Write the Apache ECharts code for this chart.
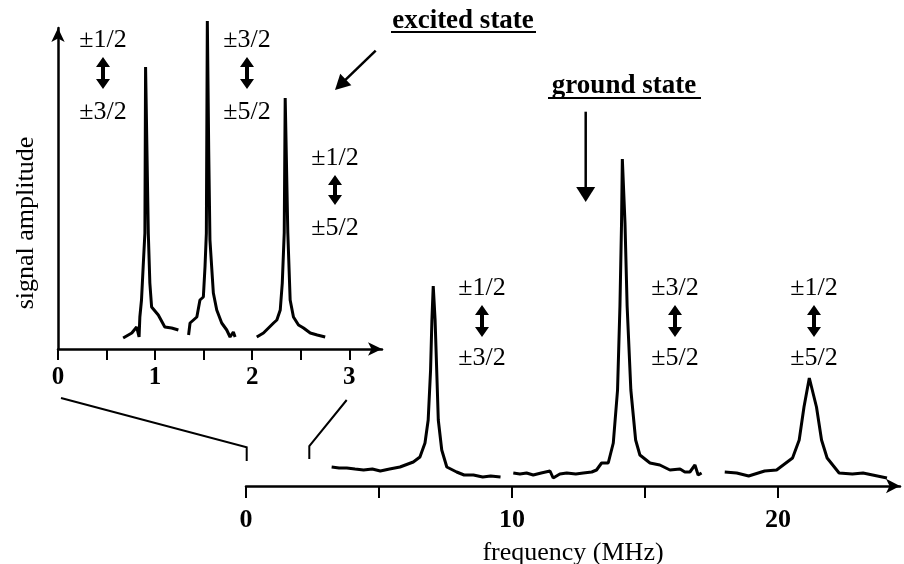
<!DOCTYPE html>
<html lang="en">
<head>
    <meta charset="UTF-8">
    <title>NQR spectra</title>
    <style>
        html, body { margin: 0; padding: 0; background: #fff; }
        #chart { width: 904px; height: 564px; }
    </style>
</head>
<body>
    <div id="chart"></div>
</body>
<script src="https://cdn.jsdelivr.net/npm/echarts@6/dist/echarts.min.js"></script>
<script type="text/javascript">
    // excited state (inset), frequency in MHz, amplitude in arb. units
    var excitedA = [[0.671, 11], [0.689, 12], [0.76, 16], [0.81, 22], [0.835, 12], [0.843, 32], [0.86, 49], [0.877, 82],
        [0.895, 116], [0.902, 282], [0.93, 116], [0.946, 66], [0.964, 42], [1.033, 34], [1.10, 22], [1.17, 21], [1.24, 19]];
    var excitedB = [[1.345, 14], [1.36, 26], [1.43, 32], [1.462, 49], [1.497, 52], [1.514, 82], [1.528, 116], [1.538, 328],
        [1.552, 200], [1.565, 109], [1.60, 56], [1.635, 39], [1.686, 26], [1.738, 19], [1.772, 12], [1.806, 17], [1.824, 12]];
    var excitedC = [[2.047, 12], [2.116, 16], [2.168, 21], [2.22, 26], [2.254, 29], [2.289, 39], [2.31, 66], [2.33, 116],
        [2.34, 251], [2.367, 116], [2.391, 49], [2.425, 32], [2.477, 24], [2.529, 21], [2.598, 16], [2.67, 14], [2.752, 12]];

    // ground state (main)
    var groundA = [[3.22, 19], [3.5, 18], [3.79, 18], [4.1, 17], [4.42, 16], [4.75, 17], [5.05, 15], [5.4, 17], [5.79, 19],
        [6.29, 24], [6.54, 29], [6.73, 43], [6.85, 66], [6.94, 116], [6.99, 166], [7.04, 200], [7.11, 166], [7.17, 116],
        [7.23, 66], [7.36, 36], [7.55, 19], [7.92, 14], [8.2, 11], [8.55, 11], [8.9, 9], [9.2, 10], [9.57, 9]];
    var groundB = [[10.05, 13], [10.3, 12], [10.55, 13], [10.8, 11], [11.1, 13], [11.43, 15], [11.55, 8], [11.8, 12],
        [12.06, 13], [12.4, 12], [12.68, 13], [13.0, 14], [13.18, 16], [13.37, 23], [13.62, 23], [13.81, 43], [13.97, 96],
        [14.06, 180], [14.12, 263], [14.15, 327], [14.25, 263], [14.33, 180], [14.47, 96], [14.65, 46], [14.81, 31],
        [15.19, 23], [15.56, 21], [15.94, 16], [16.32, 17], [16.5, 14], [16.69, 14], [16.88, 21], [17.0, 11], [17.13, 13]];
    var groundC = [[18.0, 14], [18.45, 13], [18.9, 10], [19.5, 15], [19.95, 16], [20.55, 28], [20.8, 46], [20.98, 79],
        [21.18, 108], [21.45, 79], [21.64, 46], [21.85, 28], [22.3, 13], [22.8, 12], [23.2, 13], [24.1, 8]];

    var mainTicks = [0, 5, 10, 15, 20];
    var mainLabels = [0, 10, 20];
    var insetTicks = [0, 0.5, 1, 1.5, 2, 2.5, 3];
    var insetLabels = [0, 1, 2, 3];

    // transition labels: [upper, lower]
    var insetTransitions = [['±1/2', '±3/2'], ['±3/2', '±5/2'], ['±1/2', '±5/2']];
    var groundTransitions = [['±1/2', '±3/2'], ['±3/2', '±5/2'], ['±1/2', '±5/2']];

    var SERIF = '"Liberation Serif", "Times New Roman", serif';

    function spectrum(data, axisIdx) {
        return {
            type: 'line',
            xAxisIndex: axisIdx,
            yAxisIndex: axisIdx,
            data: data,
            showSymbol: false,
            clip: false,
            silent: true,
            lineStyle: { color: '#000', width: 3 }
        };
    }

    function text(str, x, y, font, rot) {
        return {
            type: 'text', x: x, y: y, rotation: rot || 0,
            style: { text: str, font: font, fill: '#000', align: 'center', verticalAlign: 'middle' }
        };
    }

    function line(points, w) {
        return { type: 'polyline', shape: { points: points }, style: { stroke: '#000', lineWidth: w || 2, fill: null } };
    }

    // double headed vertical arrow
    function dblArrow(cx, top, bottom) {
        var hw = 7, sw = 2, hh = 10;
        return {
            type: 'polygon',
            shape: {
                points: [[cx, top], [cx + hw, top + hh], [cx + sw, top + hh], [cx + sw, bottom - hh], [cx + hw, bottom - hh],
                    [cx, bottom], [cx - hw, bottom - hh], [cx - sw, bottom - hh], [cx - sw, top + hh], [cx - hw, top + hh]]
            },
            style: { fill: '#000' }
        };
    }

    // single arrow from (x1,y1) to tip (x2,y2)
    function arrow(x1, y1, x2, y2, len, half) {
        var dx = x2 - x1, dy = y2 - y1, d = Math.sqrt(dx * dx + dy * dy);
        var ux = dx / d, uy = dy / d;
        var bx = x2 - ux * len, by = y2 - uy * len;
        return [
            line([[x1, y1], [bx + ux * 2, by + uy * 2]], 2.5),
            {
                type: 'polygon',
                shape: { points: [[x2, y2], [bx - uy * half, by + ux * half], [bx + uy * half, by - ux * half]] },
                style: { fill: '#000' }
            }
        ];
    }

    var chart = echarts.init(document.getElementById('chart'));

    var labFont = '26px ' + SERIF;

    var graphics = [];
    // titles
    graphics.push(text('excited state', 463, 21, 'bold 27px ' + SERIF));
    graphics.push(line([[391, 32], [536, 32]], 2));
    graphics.push(text('ground state', 624, 86, 'bold 27px ' + SERIF));
    graphics.push(line([[548, 98], [701, 98]], 2));
    graphics = graphics.concat(arrow(375.7, 50.7, 335, 90, 15, 8));
    graphics = graphics.concat(arrow(585.7, 111.7, 585.7, 202, 15, 9.5));
    // y axis name of inset
    graphics.push(text('signal amplitude', 26, 223, labFont, Math.PI / 2));
    // zoom connector lines
    graphics.push(line([[61, 398], [246.7, 447.3], [246.7, 461]], 2));
    graphics.push(line([[346.7, 400], [309.3, 446], [309.3, 459]], 2));

    // transition labels
    var insetPos = [[103, 40, 112, 57, 89], [247, 40, 112, 57, 89], [335, 158, 228, 175, 205]];
    insetTransitions.forEach(function (t, i) {
        var p = insetPos[i];
        graphics.push(text(t[0], p[0], p[1], labFont));
        graphics.push(text(t[1], p[0], p[2], labFont));
        graphics.push(dblArrow(p[0], p[3], p[4]));
    });
    var groundPos = [482, 675, 814];
    groundTransitions.forEach(function (t, i) {
        graphics.push(text(t[0], groundPos[i], 288, labFont));
        graphics.push(text(t[1], groundPos[i], 358, labFont));
        graphics.push(dblArrow(groundPos[i], 305, 337));
    });

    chart.setOption({
        animation: false,
        backgroundColor: '#fff',
        grid: [
            { left: 246, right: 4, top: 146, bottom: 78, outerBoundsMode: 'none' },
            { left: 58, right: 522, top: 28, bottom: 215, outerBoundsMode: 'none' }
        ],
        xAxis: [{
            type: 'value', gridIndex: 0, min: 0, max: 24.59,
            name: 'frequency (MHz)', nameLocation: 'middle', nameGap: 54,
            nameTextStyle: { fontFamily: SERIF, fontSize: 26, color: '#000' },
            axisLine: { symbol: ['none', 'arrow'], symbolSize: [11, 14], lineStyle: { color: '#000', width: 2.5 } },
            axisTick: { customValues: mainTicks, length: 12, lineStyle: { color: '#000', width: 2 } },
            axisLabel: { customValues: mainLabels, margin: 21, color: '#000', fontFamily: SERIF, fontSize: 26, fontWeight: 'bold' },
            splitLine: { show: false }
        }, {
            type: 'value', gridIndex: 1, min: 0, max: 3.337,
            axisLine: { symbol: ['none', 'arrow'], symbolSize: [10, 14], lineStyle: { color: '#000', width: 2.5 } },
            axisTick: { customValues: insetTicks, length: 11, lineStyle: { color: '#000', width: 2 } },
            axisLabel: { customValues: insetLabels, margin: 16, color: '#000', fontFamily: SERIF, fontSize: 25, fontWeight: 'bold' },
            splitLine: { show: false }
        }],
        yAxis: [{
            type: 'value', gridIndex: 0, min: 0, max: 340, show: false
        }, {
            type: 'value', gridIndex: 1, min: 0, max: 321,
            axisLine: { show: true, symbol: ['none', 'arrow'], symbolSize: [10, 14], lineStyle: { color: '#000', width: 2.5 } },
            axisTick: { show: false },
            axisLabel: { show: false },
            splitLine: { show: false }
        }],
        series: [
            spectrum(groundA, 0), spectrum(groundB, 0), spectrum(groundC, 0),
            spectrum(excitedA, 1), spectrum(excitedB, 1), spectrum(excitedC, 1)
        ],
        graphic: graphics
    });
</script>
</html>
